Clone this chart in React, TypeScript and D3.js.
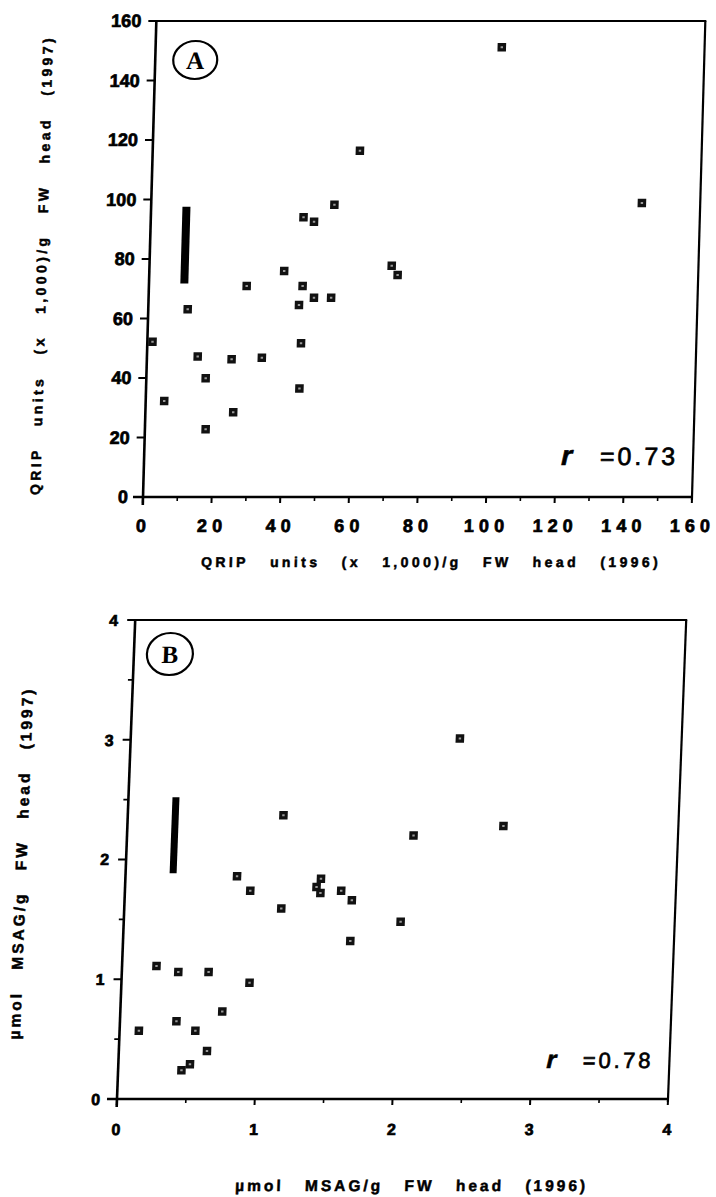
import React from "react";
import * as d3 from "d3";

// Panel A: QRIP units (x 1,000)/g FW head
const qripX1996 = [100.9, 143, 60.4, 53.4, 44.5, 47.6, 70.6, 72.4, 39.3, 44.8, 28.5, 43.9, 48.2, 53.2, 11.5, 1.5, 44.8, 14.8, 24.7, 33.5, 17.3, 44.7, 5.4, 25.6, 17.7];
const qripY1997 = [151.2, 98.8, 116.4, 98.2, 94, 92.5, 77.7, 74.6, 76, 70.9, 70.9, 64.5, 67, 67, 63.1, 52.2, 51.7, 47.2, 46.3, 46.8, 39.9, 36.5, 32.3, 28.5, 22.8];
const qripTicks = [0, 20, 40, 60, 80, 100, 120, 140, 160];
const qripXMinor = [10, 30, 50, 70, 90, 110, 130, 150];
const qripYMinor: number[] = [];
const qripBar = { x: 10.3, low: 71.8, high: 97.6 };
const qripR = "0.73";

// Panel B: µmol MSAG/g FW head
const msagX1996 = [0.81, 0.91, 1.14, 1.39, 1.42, 1.42, 1.57, 1.65, 1.65, 0.25, 0.41, 0.63, 0.93, 0.74, 0.14, 0.41, 0.55, 0.64, 0.46, 0.52, 2.01, 2.39, 2.08, 2.73, 1.13];
const msagY1997 = [1.86, 1.74, 1.59, 1.77, 1.84, 1.72, 1.74, 1.66, 1.32, 1.11, 1.06, 1.06, 0.97, 0.73, 0.57, 0.65, 0.57, 0.40, 0.24, 0.29, 1.48, 3.01, 2.20, 2.28, 2.37];
const msagTicks = [0, 1, 2, 3, 4];
const msagMinor = [0.5, 1.5, 2.5, 3.5];
const msagBar = { x: 0.345, low: 1.885, high: 2.52 };
const msagR = "0.78";

const SANS = "'Liberation Sans', Arial, Helvetica, sans-serif";
const SERIF = "'Liberation Serif', 'Times New Roman', serif";

type PanelProps = {
  ox: number; oy: number; w: number; h: number; k: number;
  xs: number[]; ys: number[]; max: number;
  ticks: number[]; xMinor: number[]; yMinor: number[];
  bar: { x: number; low: number; high: number }; barW: number;
  letter: string; circle: { cx: number; cy: number; rx: number; ry: number };
  r: string; rFont: number; rEnd: number; rStart: number; rBase: number;
  yTickFont: number; yTickGap: number;
  xTickFont: number; xTickLs: number; xTickBase: number;
  titleFont: number; titleLs: number; titleWs: number;
  xTitle: string; xTitleX: number; xTitleBase: number;
  yTitle: string; yTitleX: number; yTitleY: number;
};

const heavy = { fontFamily: SANS, fontWeight: 700, fill: "#000", stroke: "#000", strokeWidth: 0.7 } as const;

function Panel(p: PanelProps) {
  const x = d3.scaleLinear().domain([0, p.max]).range([0, p.w]);
  const y = d3.scaleLinear().domain([0, p.max]).range([0, -p.h]);
  const deg = (-Math.atan(p.k) * 180) / Math.PI;
  const ms = 8.5;
  return (
    <g transform={`translate(${p.ox},${p.oy}) skewX(${deg})`}>
      {/* frame */}
      <line x1={-7} x2={p.w + 1} y1={-p.h} y2={-p.h} stroke="#000" strokeWidth={2} />
      <line x1={p.w} x2={p.w} y1={-p.h} y2={3} stroke="#000" strokeWidth={2.2} />
      <line x1={0} x2={0} y1={-p.h} y2={8} stroke="#000" strokeWidth={2.6} />
      <line x1={-10} x2={p.w} y1={0} y2={0} stroke="#000" strokeWidth={2.6} />
      {/* ticks */}
      {p.ticks.map((t) => (
        <line key={"yt" + t} x1={-8} x2={0} y1={y(t)} y2={y(t)} stroke="#000" strokeWidth={2} />
      ))}
      {p.yMinor.map((t) => (
        <line key={"ym" + t} x1={-5} x2={0} y1={y(t)} y2={y(t)} stroke="#000" strokeWidth={1.6} />
      ))}
      {p.ticks.map((t) => (
        <line key={"xt" + t} x1={x(t)} x2={x(t)} y1={0} y2={6} stroke="#000" strokeWidth={2} />
      ))}
      {p.xMinor.map((t) => (
        <line key={"xm" + t} x1={x(t)} x2={x(t)} y1={0} y2={4} stroke="#000" strokeWidth={1.6} />
      ))}
      {/* tick labels */}
      {p.ticks.map((t) => (
        <text key={"yl" + t} x={-p.yTickGap} y={y(t)} dy="0.36em" textAnchor="end"
          fontSize={p.yTickFont} {...heavy}>{t}</text>
      ))}
      {p.ticks.map((t) => (
        <text key={"xl" + t} x={x(t)} dx={p.xTickLs / 4} y={p.xTickBase} textAnchor="middle"
          fontSize={p.xTickFont} letterSpacing={p.xTickLs} {...heavy}>{t}</text>
      ))}
      {/* axis titles */}
      <text x={p.xTitleX} y={p.xTitleBase} textAnchor="middle"
        fontSize={p.titleFont} letterSpacing={p.titleLs} wordSpacing={p.titleWs} {...heavy} strokeWidth={0.5}>{p.xTitle}</text>
      <text transform={`translate(${p.yTitleX},${p.yTitleY}) rotate(-90)`} y={0} dy="0.36em" textAnchor="middle"
        fontSize={p.titleFont} letterSpacing={p.titleLs} wordSpacing={p.titleWs} {...heavy} strokeWidth={0.5}>{p.yTitle}</text>
      {/* panel letter */}
      <ellipse cx={p.circle.cx} cy={p.circle.cy} rx={p.circle.rx} ry={p.circle.ry} fill="none" stroke="#000" strokeWidth={2.2} />
      <text x={p.circle.cx} y={p.circle.cy} dy="0.34em" textAnchor="middle" fontFamily={SERIF} fontWeight="bold" fontSize={25} fill="#000">{p.letter}</text>
      {/* LSD bar */}
      <rect x={x(p.bar.x) - p.barW / 2} y={y(p.bar.high)} width={p.barW} height={y(p.bar.low) - y(p.bar.high)} fill="#000" />
      {/* points */}
      {p.xs.map((v, i) => (
        <g key={"pt" + i} transform={`translate(${x(v)},${y(p.ys[i])})`}>
          <rect x={-ms / 2} y={-ms / 2} width={ms} height={ms} fill="#111" />
          <rect x={-1.2} y={-1} width={2.4} height={2} fill="#9a9a9a" />
        </g>
      ))}
      {/* r value */}
      <text x={p.rStart} y={p.rBase} fontFamily={SANS} fontStyle="italic" fontWeight="bold" fontSize={p.rFont + 3} fill="#000" stroke="#000" strokeWidth={0.6}>r</text>
      <text x={p.rEnd} y={p.rBase} textAnchor="end" fontFamily={SANS} fontSize={p.rFont} letterSpacing={3} fill="#000" stroke="#000" strokeWidth={0.7}>{"=" + p.r}</text>
    </g>
  );
}

export default function App() {
  return (
    <svg width={716} height={1197} style={{ position: "absolute", left: 0, top: 0, background: "#fff" }}>
      <rect width={716} height={1197} fill="#fff" />
      <Panel
        ox={143} oy={497} w={549} h={476} k={0.028}
        xs={qripX1996} ys={qripY1997} max={160}
        ticks={qripTicks} xMinor={qripXMinor} yMinor={qripYMinor}
        bar={qripBar} barW={8}
        letter="A" circle={{ cx: 40, cy: -437, rx: 22, ry: 19 }}
        r={qripR} rFont={25} rEnd={534} rStart={417} rBase={-32}
        yTickFont={18} yTickGap={15}
        xTickFont={18} xTickLs={5} xTickBase={35}
        titleFont={14} titleLs={3.4} titleWs={14}
        xTitle="QRIP units (x 1,000)/g FW head (1996)" xTitleX={290} xTitleBase={70}
        yTitle="QRIP units (x 1,000)/g FW head (1997)" yTitleX={-108} yTitleY={-232}
      />
      <Panel
        ox={117} oy={1099} w={551} h={479} k={0.038}
        xs={msagX1996} ys={msagY1997} max={4}
        ticks={msagTicks} xMinor={msagMinor} yMinor={msagMinor}
        bar={msagBar} barW={7}
        letter="B" circle={{ cx: 36, cy: -445, rx: 23, ry: 21 }}
        r={msagR} rFont={22} rEnd={535} rStart={428} rBase={-31}
        yTickFont={16} yTickGap={17}
        xTickFont={16} xTickLs={0} xTickBase={36}
        titleFont={15.5} titleLs={3} titleWs={14}
        xTitle="µmol MSAG/g FW head (1996)" xTitleX={298} xTitleBase={92}
        yTitle="µmol MSAG/g FW head (1997)" yTitleX={-105} yTitleY={-236}
      />
    </svg>
  );
}
